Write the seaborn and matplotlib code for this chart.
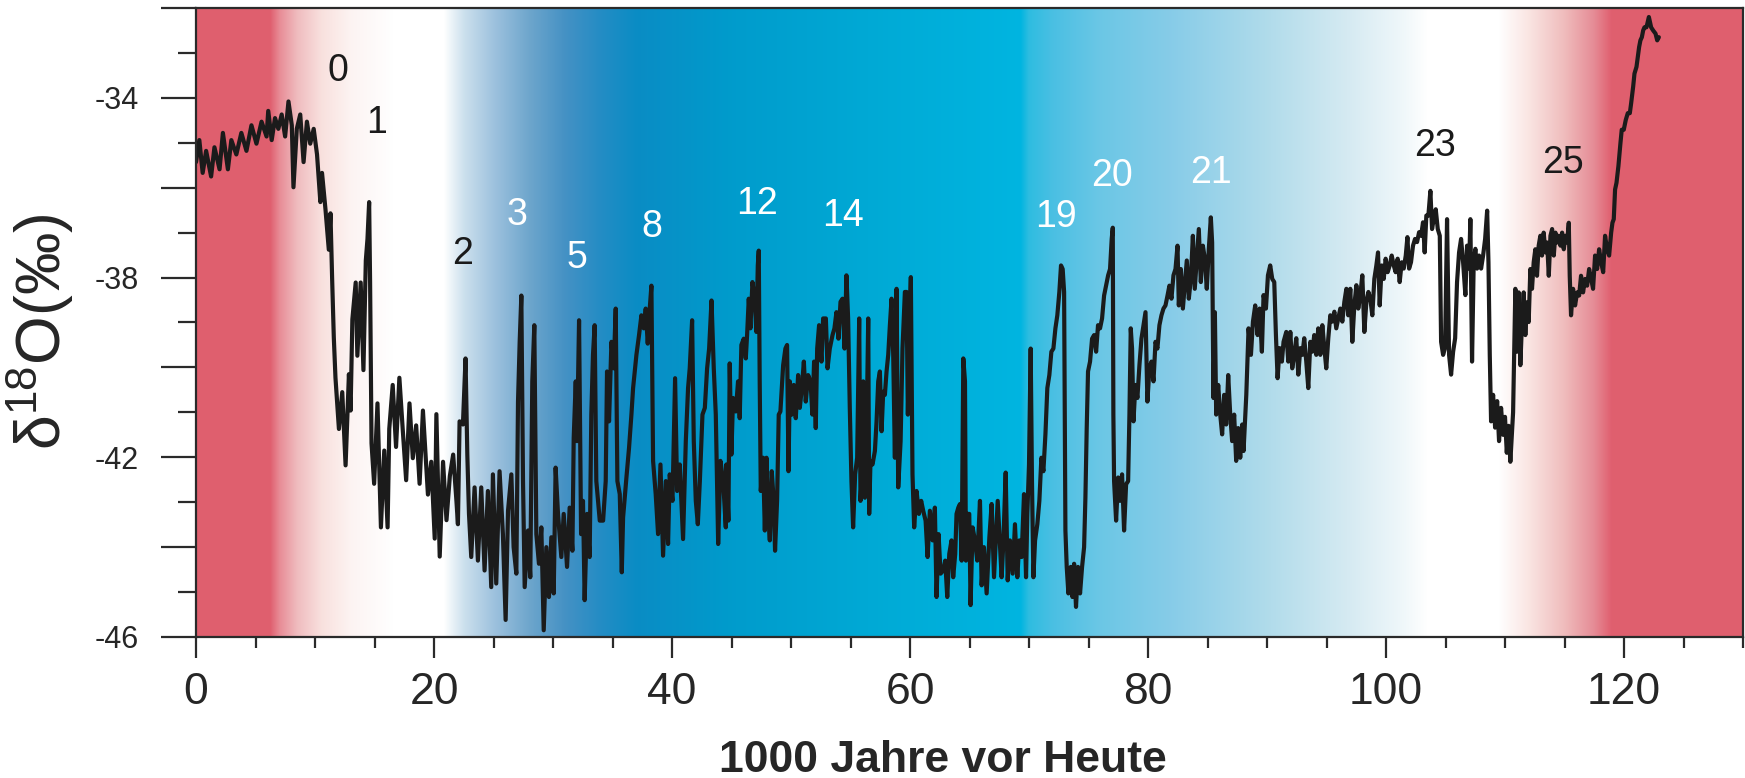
import numpy as np
import pandas as pd
import seaborn as sns
import matplotlib.pyplot as plt
from matplotlib.ticker import MultipleLocator, FuncFormatter

# NGRIP d18O record (age in 1000 years before today)

age_a = [0.0, 0.28, 0.56, 0.85, 1.27, 1.55, 1.98, 2.26, 2.68, 2.97,
         3.39, 3.81, 4.24, 4.66, 5.08, 5.51, 5.93, 6.07, 6.36, 6.64,
         6.92, 7.20, 7.49, 7.77, 8.05, 8.19, 8.47, 8.76, 9.04, 9.32,
         9.60, 9.89, 10.17, 10.45, 10.59, 10.88, 11.16, 11.30, 11.44, 11.58,
         11.72, 12.01, 12.29, 12.57, 12.85, 12.99, 13.14, 13.42, 13.56, 13.84,
         14.07, 14.27, 14.41, 14.55, 14.63, 14.75, 14.97, 15.25, 15.54, 15.82,
         16.10, 16.24, 16.53, 16.81, 17.09, 17.37, 17.66, 17.94, 18.22, 18.50,
         18.79, 19.07, 19.35, 19.49, 19.77, 20.06, 20.20, 20.48, 20.76, 21.05,
         21.33, 21.61, 21.89]
d18o_a = [-35.43, -34.94, -35.67, -35.18, -35.75, -35.10, -35.59, -34.78, -35.59, -34.94,
          -35.26, -34.78, -35.18, -34.61, -35.02, -34.53, -34.86, -34.29, -34.94, -34.45,
          -34.69, -34.37, -34.86, -34.08, -34.61, -35.99, -34.69, -34.37, -35.43, -34.53,
          -35.02, -34.69, -35.26, -36.32, -35.67, -36.48, -37.38, -36.57, -38.03, -39.33,
          -40.23, -41.37, -40.55, -42.18, -40.15, -40.96, -38.93, -38.11, -39.74, -38.11,
          -40.06, -37.62, -37.14, -36.32, -38.11, -41.69, -42.59, -40.80, -43.56, -41.85,
          -43.56, -41.37, -40.39, -41.77, -40.23, -41.37, -42.51, -40.80, -42.02, -41.29,
          -42.59, -40.96, -42.18, -42.83, -42.10, -43.81, -41.04, -44.21, -42.10, -43.40,
          -42.42, -41.94, -42.99]

age_b = [22.01, 22.15, 22.43, 22.65, 22.80, 22.94, 23.13, 23.41, 23.69, 23.97,
         24.25, 24.53, 24.81, 24.95, 25.23, 25.51, 25.79, 26.02, 26.22, 26.50,
         26.69, 26.92, 27.06, 27.20, 27.34, 27.48, 27.62, 27.90, 28.09, 28.26,
         28.43, 28.60, 28.82, 29.02, 29.22, 29.44, 29.66, 29.86, 30.06, 30.22,
         30.42, 30.70, 30.90, 31.18, 31.40, 31.63, 31.74, 31.91, 32.02, 32.19,
         32.36, 32.52, 32.66, 32.86, 33.08, 33.22, 33.36, 33.50, 33.64, 33.93,
         34.21, 34.43, 34.54, 34.71, 34.91, 35.10, 35.27, 35.41, 35.61, 35.78,
         35.89, 36.17, 36.39, 36.59, 36.73, 37.01, 37.23, 37.43, 37.63, 37.79,
         37.96, 38.13, 38.27, 38.41, 38.63, 38.83, 39.03, 39.25, 39.48, 39.67,
         39.81, 40.04, 40.26, 40.43, 40.65, 40.93, 41.16, 41.35, 41.49, 41.69,
         41.83, 42.00, 42.17, 42.34, 42.56, 42.76, 42.95, 43.12, 43.32, 43.51,
         43.68, 43.88, 44.07, 44.30, 44.52]
d18o_b = [-43.49, -41.20, -41.27, -39.80, -41.94, -43.26, -44.22, -42.67, -44.30, -42.67,
          -44.52, -42.75, -44.89, -42.38, -44.81, -42.31, -43.71, -45.62, -43.19, -42.38,
          -44.00, -44.59, -40.76, -39.43, -38.40, -42.53, -44.89, -43.63, -44.67, -40.31,
          -39.06, -43.71, -44.37, -43.56, -45.85, -44.00, -45.11, -43.78, -45.03, -42.23,
          -43.26, -44.22, -43.26, -44.44, -43.12, -44.08, -41.57, -40.31, -41.64, -38.95,
          -43.71, -42.97, -45.18, -43.26, -44.22, -41.05, -39.72, -39.06, -42.53, -43.41,
          -43.41, -42.53, -40.09, -41.20, -39.43, -40.02, -38.69, -42.53, -42.82, -44.56,
          -43.34, -42.45, -41.79, -41.05, -40.46, -39.72, -39.28, -38.84, -39.13, -38.69,
          -39.47, -38.69, -38.18, -42.08, -42.82, -43.71, -42.16, -44.19, -42.53, -43.93,
          -42.38, -42.97, -40.24, -42.75, -42.16, -43.82, -41.64, -40.46, -40.02, -38.95,
          -41.64, -42.97, -43.49, -42.53, -41.05, -40.90, -40.02, -39.58, -38.51, -40.02,
          -41.05, -43.93, -42.08, -42.53, -43.56]

age_c = [44.57, 44.74, 44.85, 44.99, 45.13, 45.36, 45.55, 45.69, 45.83, 46.03,
         46.20, 46.31, 46.45, 46.59, 46.76, 46.95, 47.09, 47.21, 47.29, 47.37,
         47.46, 47.65, 47.80, 47.94, 48.08, 48.22, 48.38, 48.55, 48.66, 48.83,
         48.97, 49.11, 49.34, 49.53, 49.67, 49.79, 49.90, 50.07, 50.23, 50.40,
         50.60, 50.74, 50.91, 51.08, 51.24, 51.44, 51.64, 51.80, 51.94, 52.08,
         52.20, 52.36, 52.56, 52.70, 52.93, 53.07, 53.26, 53.49, 53.65, 53.82,
         53.99, 54.16, 54.33, 54.50, 54.66, 54.80, 54.94, 55.08, 55.22, 55.39,
         55.56, 55.73, 55.84, 55.95, 56.07, 56.21, 56.35, 56.49, 56.57, 56.68,
         56.85, 57.05, 57.19, 57.33, 57.47, 57.61, 57.75, 57.89, 58.03, 58.17,
         58.31, 58.45, 58.59, 58.73, 58.87, 59.01, 59.21, 59.37, 59.57, 59.71,
         59.82, 59.96, 60.07, 60.21, 60.35, 60.55, 60.75, 60.94, 61.11, 61.31,
         61.48, 61.67, 61.90, 62.09, 62.23, 62.40, 62.57, 62.79, 62.96, 63.13,
         63.30, 63.49, 63.63, 63.80, 63.91, 64.06, 64.20, 64.34, 64.48, 64.62,
         64.70, 64.81, 64.98, 65.09, 65.26, 65.46, 65.65, 65.88, 66.02, 66.21,
         66.38]
d18o_c = [-42.16, -43.41, -39.91, -41.94, -40.68, -40.98, -40.31, -41.13, -39.50, -39.36,
          -39.80, -39.28, -38.47, -39.13, -38.10, -38.47, -39.21, -37.73, -37.40, -40.31,
          -42.75, -42.01, -43.63, -42.01, -43.26, -43.85, -42.31, -42.97, -44.08, -42.97,
          -41.05, -40.98, -39.95, -39.58, -39.50, -42.31, -40.31, -41.05, -40.39, -41.13,
          -40.17, -40.90, -40.46, -39.87, -40.76, -40.17, -40.31, -41.05, -39.87, -41.35,
          -39.58, -39.06, -39.87, -38.91, -38.91, -40.02, -39.58, -39.28, -39.13, -38.77,
          -39.36, -38.54, -38.47, -39.58, -37.95, -38.91, -40.90, -42.53, -43.56, -42.38,
          -42.01, -38.91, -42.97, -42.38, -40.31, -42.90, -41.49, -38.91, -43.26, -42.08,
          -42.16, -41.86, -41.20, -40.31, -40.09, -41.42, -40.54, -40.61, -40.09, -39.72,
          -39.06, -38.47, -39.72, -42.01, -38.25, -42.67, -41.64, -39.58, -38.32, -38.32,
          -41.05, -38.99, -37.99, -42.38, -43.56, -42.75, -43.26, -42.97, -43.19, -43.41,
          -44.22, -43.19, -43.85, -43.12, -45.11, -43.71, -44.59, -44.52, -44.30, -45.11,
          -44.15, -43.85, -44.67, -44.15, -43.26, -43.12, -43.04, -44.30, -39.80, -40.31,
          -44.30, -43.26, -43.26, -45.29, -43.56, -43.85, -44.30, -42.97, -44.85, -44.00,
          -44.74]

age_d = [66.44, 66.67, 66.86, 67.06, 67.23, 67.37, 67.56, 67.70, 67.84, 68.04,
         68.21, 68.40, 68.63, 68.82, 69.02, 69.19, 69.38, 69.58, 69.75, 69.86,
         70.00, 70.14, 70.25, 70.37, 70.51, 70.70, 70.87, 71.04, 71.21, 71.38,
         71.54, 71.71, 71.88, 72.05, 72.22, 72.38, 72.55, 72.69, 72.83, 72.95,
         73.00, 73.06, 73.17, 73.31, 73.51, 73.65, 73.79, 73.95, 74.12, 74.29,
         74.46, 74.63, 74.74, 74.85, 74.96, 75.13, 75.30, 75.47, 75.64, 75.80,
         75.97, 76.14, 76.31, 76.48, 76.65, 76.81, 76.95, 77.04, 77.09, 77.15,
         77.32, 77.49, 77.65, 77.82, 77.99, 78.16, 78.33, 78.44, 78.55, 78.66,
         78.78, 78.94, 79.11, 79.28, 79.45, 79.62, 79.79, 79.95, 80.12, 80.29,
         80.46, 80.63, 80.79, 80.96, 81.13, 81.30, 81.47, 81.64, 81.80, 81.97,
         82.14, 82.31, 82.48, 82.59, 82.76, 82.93, 83.09, 83.26, 83.43, 83.60,
         83.77, 83.93, 84.10, 84.27, 84.44, 84.61, 84.78, 84.94, 85.11, 85.28,
         85.39, 85.50, 85.62, 85.73, 85.90, 86.07, 86.23, 86.40, 86.57, 86.74,
         86.91, 87.07, 87.24, 87.41, 87.58, 87.75, 87.92]
d18o_d = [-45.03, -43.78, -43.04, -44.67, -43.71, -42.97, -43.93, -44.67, -43.93, -42.34,
          -44.74, -43.85, -44.59, -43.49, -44.67, -43.85, -44.22, -42.82, -44.67, -43.26,
          -42.16, -39.58, -42.53, -44.67, -43.85, -43.49, -42.97, -42.01, -42.31, -41.49,
          -40.46, -40.17, -39.65, -39.58, -39.13, -38.84, -38.32, -37.73, -37.81, -38.32,
          -40.90, -43.63, -44.44, -45.03, -44.44, -45.11, -44.37, -45.33, -44.44, -45.03,
          -44.44, -44.00, -42.90, -41.35, -40.09, -39.87, -39.36, -39.28, -39.65, -39.06,
          -39.13, -38.91, -38.40, -38.18, -37.95, -37.81, -37.14, -36.89, -41.05, -42.53,
          -43.41, -42.45, -42.97, -42.38, -43.63, -42.60, -42.53, -41.05, -39.13, -39.58,
          -41.20, -40.39, -40.68, -39.95, -39.36, -39.06, -38.77, -40.76, -40.02, -39.87,
          -40.31, -39.43, -39.58, -39.06, -38.84, -38.69, -38.62, -38.40, -38.18, -38.47,
          -37.95, -37.81, -37.29, -38.62, -37.81, -38.69, -38.18, -37.62, -38.47, -38.03,
          -37.07, -38.25, -37.59, -36.92, -38.10, -37.29, -37.59, -38.25, -37.36, -36.66,
          -37.22, -40.68, -38.77, -41.05, -40.39, -41.05, -41.49, -40.61, -41.27, -40.17,
          -41.05, -41.64, -41.05, -42.08, -41.35, -42.01, -41.27]

age_e = [88.03, 88.26, 88.45, 88.65, 88.82, 89.01, 89.21, 89.38, 89.57, 89.71,
         89.91, 90.08, 90.27, 90.44, 90.61, 90.75, 90.89, 91.06, 91.25, 91.39,
         91.62, 91.79, 91.96, 92.12, 92.29, 92.46, 92.63, 92.80, 92.97, 93.13,
         93.30, 93.47, 93.64, 93.81, 93.97, 94.14, 94.31, 94.48, 94.65, 94.82,
         94.98, 95.15, 95.32, 95.49, 95.66, 95.82, 95.99, 96.16, 96.33, 96.50,
         96.67, 96.83, 97.00, 97.17, 97.34, 97.51, 97.67, 97.84, 98.01, 98.18,
         98.35, 98.52, 98.68, 98.85, 99.02, 99.19, 99.33, 99.47, 99.64, 99.81,
         99.97, 100.14, 100.31, 100.48, 100.65, 100.81, 100.98, 101.15, 101.32, 101.49,
         101.66, 101.80, 101.94, 102.10, 102.27, 102.44, 102.61, 102.78, 102.95, 103.11,
         103.25, 103.39, 103.56, 103.73, 103.87, 104.01, 104.18, 104.35, 104.52, 104.63,
         104.80, 104.96, 105.13, 105.30, 105.47, 105.64, 105.81, 105.97, 106.14, 106.31,
         106.48, 106.67, 106.81, 106.98, 107.09, 107.23, 107.37, 107.51, 107.65, 107.82,
         107.99, 108.16, 108.33, 108.50, 108.61, 108.72, 108.83, 109.00, 109.17, 109.34,
         109.50, 109.67, 109.84, 110.00, 110.15, 110.30, 110.45, 110.58, 110.68]
d18o_e = [-41.86, -40.61, -39.13, -39.72, -38.98, -38.62, -39.28, -38.69, -39.65, -38.39,
          -38.69, -37.95, -37.73, -38.03, -38.10, -39.28, -40.24, -39.57, -39.87, -39.43,
          -39.21, -39.87, -39.21, -40.02, -39.72, -39.35, -40.16, -39.57, -39.72, -39.35,
          -39.87, -40.46, -39.43, -39.65, -39.28, -39.72, -39.13, -39.72, -39.06, -39.57,
          -40.02, -39.35, -38.84, -38.98, -38.76, -39.13, -38.91, -38.69, -38.98, -38.54,
          -38.25, -38.84, -38.25, -39.43, -38.62, -38.17, -38.69, -38.39, -37.95, -39.21,
          -38.54, -38.32, -38.47, -38.84, -38.03, -37.73, -37.44, -38.62, -37.73, -38.03,
          -37.58, -37.88, -37.73, -37.51, -37.73, -37.88, -37.58, -38.10, -37.66, -37.80,
          -37.51, -37.10, -37.80, -37.66, -37.29, -37.14, -37.21, -36.99, -37.07, -36.77,
          -37.44, -36.62, -36.62, -36.07, -36.92, -36.70, -36.48, -36.92, -37.07, -39.43,
          -39.72, -39.57, -36.70, -39.72, -40.16, -39.65, -39.35, -38.10, -37.44, -37.14,
          -37.66, -38.39, -37.29, -37.80, -36.70, -39.87, -37.66, -37.36, -37.80, -37.51,
          -37.80, -37.51, -37.14, -36.51, -37.66, -39.72, -41.20, -40.61, -41.34, -40.75,
          -41.64, -40.90, -41.50, -41.10, -41.90, -41.30, -42.10, -41.50, -41.00]

age_f = [110.87, 111.01, 111.15, 111.29, 111.43, 111.57, 111.71, 111.85, 111.99, 112.13,
         112.27, 112.41, 112.55, 112.69, 112.83, 112.97, 113.11, 113.25, 113.40, 113.54,
         113.68, 113.82, 113.96, 114.10, 114.24, 114.38, 114.52, 114.66, 114.80, 114.94,
         115.08, 115.22, 115.36, 115.44, 115.55, 115.72, 115.89, 116.06, 116.23, 116.39,
         116.56, 116.73, 116.90, 117.07, 117.24, 117.40, 117.57, 117.74, 117.91, 118.08,
         118.25, 118.41, 118.58, 118.75, 118.92, 119.03, 119.14, 119.25, 119.37, 119.53,
         119.70, 119.81, 119.98, 120.15, 120.32, 120.49, 120.60, 120.77, 120.88, 121.05,
         121.16, 121.27, 121.38, 121.50, 121.61, 121.72, 121.89, 122.09, 122.28, 122.45,
         122.65, 122.79, 122.93]
d18o_f = [-38.25, -39.65, -38.33, -39.95, -38.99, -38.33, -39.28, -38.55, -38.99, -37.81,
          -38.25, -37.66, -37.37, -37.96, -37.29, -37.07, -37.51, -37.00, -37.44, -37.22,
          -37.96, -37.07, -36.92, -37.51, -37.00, -37.22, -37.07, -37.29, -37.00, -37.37,
          -37.07, -37.22, -36.78, -37.96, -38.84, -38.25, -38.62, -38.33, -38.40, -37.96,
          -38.33, -38.03, -38.18, -37.81, -38.03, -38.25, -37.51, -37.81, -37.37, -37.66,
          -37.88, -37.07, -37.37, -37.51, -37.00, -36.78, -36.70, -36.04, -35.89, -35.52,
          -35.01, -34.71, -34.71, -34.49, -34.34, -34.34, -34.12, -33.75, -33.46, -33.31,
          -33.09, -32.87, -32.72, -32.65, -32.50, -32.43, -32.43, -32.20, -32.43, -32.50,
          -32.57, -32.72, -32.65]

# Dansgaard-Oeschger event numbers
event_names = ["0", "1", "2", "3", "5", "8", "12", "14", "19", "20", "21", "23", "25"]
event_age = [11.9, 15.2, 22.4, 27.0, 32.0, 38.3, 47.15, 54.4, 72.3, 77.0, 85.3, 104.15, 114.9]
event_d18o = [-33.4, -34.55, -37.47, -36.6, -37.57, -36.88, -36.37, -36.63, -36.66, -35.75, -35.68, -35.08, -35.45]
event_color = ["#1a1a1a", "#1a1a1a", "#1a1a1a", "white", "white", "white", "white",
               "white", "white", "white", "white", "#1a1a1a", "#1a1a1a"]

# background colour band (warm - cold - warm)
RED = (0.878, 0.373, 0.435)
bg_stops = [
    (0, RED), (6.2, RED), (7.0, (0.91, 0.55, 0.59)), (8.5, (0.94, 0.74, 0.75)),
    (10.5, (0.975, 0.88, 0.87)), (13, (0.99, 0.955, 0.95)), (16.5, (1, 1, 1)),
    (20.8, (1, 1, 1)), (22.5, (0.80, 0.88, 0.93)), (25, (0.62, 0.76, 0.87)),
    (28, (0.43, 0.65, 0.80)), (31, (0.27, 0.57, 0.77)), (34, (0.14, 0.55, 0.77)),
    (37, (0.04, 0.55, 0.77)), (45, (0.0, 0.61, 0.80)), (58, (0.0, 0.67, 0.84)),
    (69.3, (0.0, 0.71, 0.88)), (70.0, (0.18, 0.74, 0.88)), (72, (0.29, 0.75, 0.89)),
    (76, (0.42, 0.78, 0.90)), (82, (0.53, 0.80, 0.91)), (90, (0.69, 0.86, 0.92)),
    (97, (0.84, 0.92, 0.95)), (101.5, (0.94, 0.97, 0.98)), (103.5, (1, 1, 1)),
    (109.5, (1, 1, 1)), (112, (0.98, 0.90, 0.89)), (115, (0.94, 0.74, 0.74)),
    (117.5, (0.90, 0.55, 0.59)), (119, RED), (130, RED),
]

df = pd.DataFrame({
    "age": np.concatenate([age_a, age_b, age_c, age_d, age_e, age_f]),
    "d18o": np.concatenate([d18o_a, d18o_b, d18o_c, d18o_d, d18o_e, d18o_f]),
})

sns.set_style("ticks")
plt.rcParams["font.family"] = ["Liberation Sans", "DejaVu Sans"]
plt.rcParams["mathtext.fontset"] = "custom"
plt.rcParams["mathtext.rm"] = "Liberation Sans"

W, H = 1745, 778
fig = plt.figure(figsize=(W / 100, H / 100), dpi=100)
ax = fig.add_axes([196 / W, 1 - 637 / H, 1547 / W, 629 / H])

xs = np.linspace(0, 130, 1301)
stop_x = [s[0] for s in bg_stops]
rgb = np.stack([np.interp(xs, stop_x, [s[1][i] for s in bg_stops]) for i in range(3)], axis=-1)
ax.imshow(rgb[None, :, :], extent=(0, 130, -46, -32), aspect="auto",
          interpolation="bilinear", zorder=0)

sns.lineplot(data=df, x="age", y="d18o", estimator=None, sort=False,
             color="#1b1b1b", lw=3.0, ax=ax, zorder=2)

for name, xa, ya, c in zip(event_names, event_age, event_d18o, event_color):
    ax.text(xa, ya, name, ha="center", va="center", fontsize=27, color=c, zorder=3)

ax.set_xlim(0, 130)
ax.set_ylim(-46, -32)
ax.xaxis.set_major_locator(MultipleLocator(20))
ax.xaxis.set_minor_locator(MultipleLocator(5))
ax.yaxis.set_major_locator(MultipleLocator(2))
ax.yaxis.set_minor_locator(MultipleLocator(1))
ax.yaxis.set_major_formatter(FuncFormatter(lambda v, p: f"{v:.0f}" if round(v) % 4 == 2 else ""))

edge = "#2a2a2a"
for s in ax.spines.values():
    s.set_color(edge)
    s.set_linewidth(1.6)
ax.tick_params(axis="y", which="major", length=25, width=1.6, color=edge, pad=16, labelsize=22)
ax.tick_params(axis="y", which="minor", length=13, width=1.6, color=edge)
ax.tick_params(axis="x", which="major", length=15, width=1.6, color=edge, pad=10, labelsize=32)
ax.tick_params(axis="x", which="minor", length=8, width=1.6, color=edge)

ax.set_xlabel("1000 Jahre vor Heute", fontsize=32, fontweight="bold", va="center")
ax.xaxis.set_label_coords(0.483, -0.196)
ax.set_ylabel(None)
fig.text(40 / W, 1 - 332 / H, "δ$^{18}$O(‰)", rotation=90, ha="center", va="center", fontsize=45)

fig.savefig("out.png", dpi=100)
